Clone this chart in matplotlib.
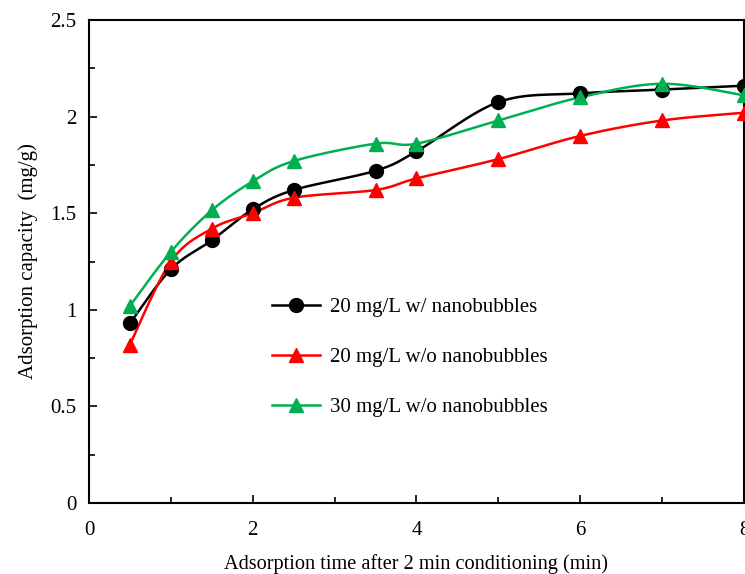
import matplotlib
matplotlib.use("Agg")
import matplotlib.pyplot as plt
from matplotlib.lines import Line2D
from matplotlib.ticker import MultipleLocator
import numpy as np

# data
time_min = [0.5, 1, 1.5, 2, 2.5, 3.5, 4, 5, 6, 7, 8]
nb20_with = [0.93, 1.21, 1.36, 1.52, 1.62, 1.72, 1.82, 2.075, 2.12, 2.14, 2.16]
nb20_without = [0.82, 1.25, 1.42, 1.50, 1.58, 1.62, 1.68, 1.78, 1.90, 1.98, 2.02]
nb30_without = [1.02, 1.30, 1.515, 1.665, 1.77, 1.86, 1.86, 1.98, 2.10, 2.17, 2.11]
labels = ["20 mg/L w/ nanobubbles", "20 mg/L w/o nanobubbles", "30 mg/L w/o nanobubbles"]


# ##################################################################
# Excel-like smoothed line (cubic bezier, catmull-rom control points)
# ##################################################################
def smooth(x, y, n=30):
    p = np.column_stack([x, y]).astype(float)
    ext = np.vstack([p[0], p, p[-1]])
    out = []
    t = np.linspace(0, 1, n)[:, None]
    for i in range(len(p) - 1):
        p0, p1, p2, p3 = ext[i], ext[i + 1], ext[i + 2], ext[i + 3]
        c1 = p1 + (p2 - p0) / 6.0
        c2 = p2 - (p3 - p1) / 6.0
        seg = ((1 - t) ** 3) * p1 + 3 * ((1 - t) ** 2) * t * c1 + 3 * (1 - t) * t ** 2 * c2 + t ** 3 * p2
        out.append(seg if i == 0 else seg[1:])
    out = np.vstack(out)
    return out[:, 0], out[:, 1]


plt.rcParams['font.family'] = ['Liberation Serif', 'DejaVu Serif']
plt.rcParams['font.size'] = 15

fig = plt.figure(figsize=(7.45, 5.74), dpi=100)
ax = fig.add_axes([89 / 745, 71 / 574, 655 / 745, 483 / 574])

series = [
    (nb20_with, "black", "o"),
    (nb20_without, "#ff0000", "^"),
    (nb30_without, "#00b050", "^"),
]
handles = []
for vals, col, mk in series:
    sx, sy = smooth(time_min, vals)
    ax.plot(sx, sy, color=col, lw=1.8, zorder=2)
    ax.plot(time_min, vals, ls="none", marker=mk, ms=10, color=col, zorder=3, clip_on=False)
    handles.append(Line2D([], [], color=col, lw=1.8, marker=mk, ms=10))

ax.set_xlim(0, 8)
ax.set_ylim(0, 2.5)
ax.xaxis.set_major_locator(MultipleLocator(2))
ax.xaxis.set_minor_locator(MultipleLocator(1))
ax.yaxis.set_minor_locator(MultipleLocator(0.25))
ax.set_yticks([0, 0.5, 1, 1.5, 2, 2.5])
ax.set_yticklabels(["0", "0.5", "1", "1.5", "2", "2.5"])
ax.tick_params(which="major", direction="in", length=6, width=1.2, pad=13)
ax.tick_params(which="minor", direction="in", length=4, width=1.2)
ax.tick_params(axis="y", which="major", pad=9)
ax.tick_params(axis="y", which="both", left=True, right=False)
ax.tick_params(axis="x", which="both", bottom=True, top=False)
for s in ax.spines.values():
    s.set_linewidth(1.5)

ax.set_xlabel("Adsorption time after 2 min conditioning (min)", labelpad=10, fontsize=14.6)
ax.set_ylabel("Adsorption capacity  (mg/g)", labelpad=9)

ax.legend(handles, labels, loc="upper left", bbox_to_anchor=(0.279, 0.425),
          frameon=False, handlelength=2.3, handletextpad=0.48,
          labelspacing=1.46, borderpad=0, borderaxespad=0, fontsize=15)

fig.savefig("out.png", dpi=100)
